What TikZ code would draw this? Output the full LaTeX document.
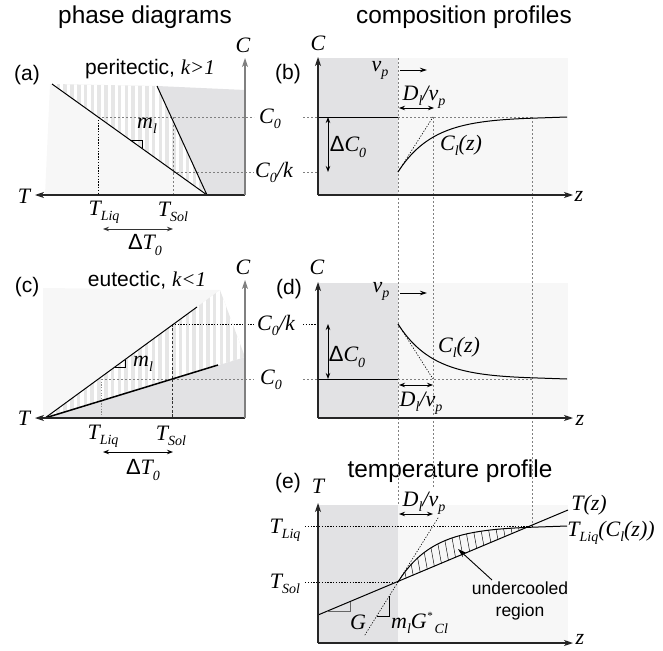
\documentclass[tikz,border=0pt]{standalone}
\usepackage{fontspec}
\setmainfont{Liberation Sans}
\newfontfamily\tms{Liberation Serif}
\usetikzlibrary{arrows.meta}
\definecolor{regdark}{HTML}{E2E2E4}
\definecolor{reglight}{HTML}{F7F7F7}
\definecolor{stripebg}{HTML}{E6E6E6}
\newcommand\sbs[1]{\raisebox{-0.5ex}{\fontsize{14}{14}\selectfont\tms\itshape #1}}
\newcommand\mi[1]{{\tms\itshape #1}}
\newcommand\supstar{\raisebox{0.85ex}{\fontsize{11}{11}\selectfont *}}
\begin{document}
\begin{tikzpicture}[x=1pt,y=-1pt,
  mlab/.style={font=\fontsize{22}{24}\selectfont\tms\itshape, inner sep=0pt},
  slab/.style={font=\fontsize{21}{24}\selectfont, inner sep=0pt},
  ttl/.style={font=\fontsize{24.4}{28}\selectfont, inner sep=0pt},
  axk/.style={line width=1.1pt, draw=black!85, -{Stealth[length=9pt,width=6pt,inset=2.5pt]}},
  axg/.style={axk, draw=black!50},
  dbl/.style={line width=0.9pt, {Stealth[length=6pt,width=4.5pt]}-{Stealth[length=6pt,width=4.5pt]}},
  sarr/.style={line width=0.9pt, -{Stealth[length=7pt,width=4.5pt]}},
  gdash/.style={black!50, dash pattern=on 2.2pt off 1.8pt, line width=0.6pt},
  kdot/.style={black, dash pattern=on 1.3pt off 1.5pt, line width=0.6pt},
  crv/.style={line width=1pt},
  tri/.style={line width=0.8pt},
]
\useasboundingbox (0,0) rectangle (663,650);

% ---------- titles and panel labels
\node[ttl] (t1) at (145,17) {phase diagrams};
\node[ttl] (t2) at (464,17) {composition profiles};
\node[ttl] (t3) at (450,471) {temperature profile};
\node[slab] (pa) at (27,75) {(a)};
\node[slab] (pb) at (288,74) {(b)};
\node[slab] (pc) at (27,287) {(c)};
\node[slab] (pd) at (289,289) {(d)};
\node[slab] (pe) at (288,483) {(e)};
\node[slab] (peri) at (150,69) {peritectic, \mi{k>1}};
\node[slab] (eut) at (147,280) {eutectic, \mi{k<1}};

% ---------- panel (a) regions
\fill[reglight] (50,84) -- (52,84) -- (207,195) -- (45,195) -- cycle;
\fill[regdark] (157,86) -- (245,90) -- (245,195) -- (207,195) -- cycle;
\begin{scope}
\clip (52,84) -- (157,86) -- (207,195) -- cycle;
\fill[stripebg] (40,80) rectangle (250,200);
\foreach \i in {0,...,24} \draw[white, line width=3.2pt] ({55+\i*6.8},80) -- ++(0,120);
\end{scope}
% ---------- panel (c) regions
\fill[reglight] (43,288) -- (220,290) -- (45,418) -- (43,418) -- cycle;
\fill[regdark] (45,418) -- (245,357) -- (245,418) -- cycle;
\begin{scope}
\clip (45,418) -- (220,290) -- (245,357) -- cycle;
\fill[stripebg] (40,280) rectangle (250,420);
\foreach \i in {0,...,30} \draw[white, line width=3.2pt] ({48+\i*6.8},280) -- ++(0,140);
\end{scope}
% ---------- panels (b),(d),(e) rectangles
\fill[regdark] (318,58) rectangle (398,195);
\fill[reglight] (398,58) rectangle (568,195);
\fill[regdark] (318,283) rectangle (398,418);
\fill[reglight] (398,283) rectangle (568,418);
\fill[regdark] (318,505) rectangle (398,643);
\fill[reglight] (398,505) rectangle (568,643);

% ---------- coordinates
\coordinate (aLt) at (52,84);   \coordinate (aE) at (207,195);
\coordinate (aSt) at (157,86);
\coordinate (cT) at (45,418);   \coordinate (cLe) at (197,307);
\coordinate (cSe) at (218,365);
\coordinate (bS) at (398,172);  \coordinate (bM) at (433,117);
\coordinate (dS) at (398,324);  \coordinate (dM) at (433,379);
\coordinate (eS) at (398,582);

% ---------- dashed / dotted guide lines
% (a),(b)
\draw[gdash] (98,117) -- (254,117);
\draw[gdash] (303,117) -- (318,117);
\draw[gdash] (173,172) -- (254,172);
\draw[gdash] (303,172) -- (318,172);
\draw[kdot] (98,117) -- (98,195);
\draw[gdash] (173,117) -- (173,195);
\draw[gdash] (398,117) -- (532,117);
% (c),(d)
\draw[kdot] (172,324) -- (254,324);
\draw[kdot] (303,324) -- (318,324);
\draw[gdash] (101,379) -- (254,379);
\draw[gdash] (303,379) -- (318,379);
\draw[black!45, dash pattern=on 1.2pt off 1.5pt, line width=0.6pt] (101,379) -- (101,418);
\draw[black!80, dash pattern=on 2.5pt off 1.8pt, line width=0.6pt] (172,324) -- (172,418);
\draw[gdash] (398,379) -- (532,379);
% long verticals
\draw[gdash] (398,58) -- (398,505);
\draw[gdash] (433,117) -- (433,487);
\draw[gdash] (532,117) -- (532,526);
% (e)
\draw[kdot] (305,526) -- (532,526);
\draw[kdot] (305,582) -- (398,582);

% ---------- panel (a) lines
\draw[crv] (aLt) -- (aE);
\draw[crv] (aSt) -- (aE);
\draw[tri] (130,139.9) -- (142,139.9) -- (142,148.4);
\draw[axk] (245,195) -- (35,195);
\draw[axg] (245,195) -- (245,58);
\draw[dbl, draw=black!80] (103,229) -- (173,229);

% ---------- panel (c) lines
\draw[crv] (cT) -- (cLe);
\draw[line width=1.5pt] (cT) -- (cSe);
\draw[tri] (115,366.9) -- (125,366.9) -- (125,359.6);
\draw[axk] (245,418) -- (35,418);
\draw[axg] (245,418) -- (245,280);
\draw[dbl] (103,452) -- (173,452);

% ---------- panel (b)
\draw[crv] (318,117) -- (398,117);
\draw[crv] plot[domain=0:134, samples=70] ({398+\x},{117+55*exp(-\x/35)}) -- (567,117);
\draw[kdot] (bS) -- (bM);
\draw[dbl] (328,117) -- (328,172);
\draw[dbl] (399,108) -- (434,108);
\draw[sarr] (400,70) -- (427,70);
\draw[axk] (318,195) -- (318,57);
\draw[axk] (318,195) -- (573,195);

% ---------- panel (d)
\draw[crv] (318,379) -- (398,379);
\draw[crv] plot[domain=0:134, samples=70] ({398+\x},{379-55*exp(-\x/35)}) -- (567,379);
\draw[kdot] (dS) -- (dM);
\draw[dbl] (328,324) -- (328,379);
\draw[dbl] (399,385) -- (433,385);
\draw[sarr] (400,293) -- (427,293);
\draw[axk] (318,418) -- (318,282);
\draw[axk] (318,418) -- (573,418);

% ---------- panel (e)
\begin{scope}
\clip plot[domain=0:134, samples=70] ({398+\x},{526+56*exp(-\x/35)}) -- (532,524.7) -- (eS) -- cycle;
\foreach \i in {0,...,19} \draw[line width=0.45pt] ({392+\i*7.6},500) -- ++(18,100);
\end{scope}
\draw[crv] plot[domain=0:134, samples=70] ({398+\x},{526+56*exp(-\x/35)}) -- (567,526);
\draw[crv] (318,615) -- (568,510);
\draw[kdot] (364.75,635.2) -- (438.25,517.6);
\draw[tri, draw=black!60] (327,611.2) -- (350,611.2) -- (350,601.6);
\draw[tri] (376.7,616) -- (389,616) -- (389,596.4);
\draw[dbl] (399,514) -- (433,514);
\draw[sarr, -{Stealth[length=9pt,width=5.5pt]}] (492,580) -- (458,549);
\draw[axk] (318,643) -- (318,503);
\draw[axk] (318,643) -- (573,643);

% ---------- labels (a)
\node[mlab] (aC) at (243,45) {C};
\node[mlab] (aT) at (24,196) {T};
\node[mlab] (aTl) at (104,212) {T\sbs{Liq}};
\node[mlab] (aTs) at (173,212) {T\sbs{Sol}};
\node[mlab] (aDT) at (145,245) {{\upshape\fontspec{Liberation Sans}Δ}T\sbs{0}};
\node[mlab] (aC0) at (270,119) {C\sbs{0}};
\node[mlab] (aC0k) at (274,172) {C\sbs{0}/k};
\node[mlab] (aml) at (147,126) {m\sbs{l}};
% labels (b)
\node[mlab] (bC) at (318,43) {C};
\node[mlab] (bz) at (579,196) {z};
\node[mlab] (bvp) at (380,70) {v\sbs{p}};
\node[mlab] (bD) at (424,97) {D\sbs{l}/v\sbs{p}};
\node[mlab] (bDC) at (348,147) {{\upshape\fontspec{Liberation Sans}Δ}C\sbs{0}};
\node[mlab] (bCl) at (461,145) {C\sbs{l}(z)};
% labels (c)
\node[mlab] (cC) at (243,267) {C};
\node[mlab] (cTT) at (24,418) {T};
\node[mlab] (cTl) at (103,436) {T\sbs{Liq}};
\node[mlab] (cTs) at (171,436) {T\sbs{Sol}};
\node[mlab] (cDT) at (143,470) {{\upshape\fontspec{Liberation Sans}Δ}T\sbs{0}};
\node[mlab] (cml) at (143,364) {m\sbs{l}};
\node[mlab] (cC0k) at (276,325) {C\sbs{0}/k};
\node[mlab] (cC0) at (271,380) {C\sbs{0}};
% labels (d)
\node[mlab] (dC) at (317,267) {C};
\node[mlab] (dz) at (580,420) {z};
\node[mlab] (dvp) at (381,291) {v\sbs{p}};
\node[mlab] (dDC) at (347,357) {{\upshape\fontspec{Liberation Sans}Δ}C\sbs{0}};
\node[mlab] (dCl) at (459,347) {C\sbs{l}(z)};
\node[mlab] (dD) at (421,403) {D\sbs{l}/v\sbs{p}};
% labels (e)
\node[mlab] (eT) at (318,486) {T};
\node[mlab] (ez) at (580,639) {z};
\node[mlab] (eTl) at (285,530) {T\sbs{Liq}};
\node[mlab] (eTs) at (285,584) {T\sbs{Sol}};
\node[mlab] (eD) at (424,503) {D\sbs{l}/v\sbs{p}};
\node[mlab] (eTz) at (589,505) {T(z)};
\node[mlab] (eTL) at (611,533) {T\sbs{Liq}(C\sbs{l}(z))};
\node[mlab] (eG) at (358,622) {G};
\node[mlab, anchor=west] (emG) at (391,623) {m\sbs{l}G\supstar\sbs{\,Cl}};
\node[font=\fontsize{17.5}{22}\selectfont, align=center, inner sep=0pt] (eund) at (520,601) {undercooled\\region};
\end{tikzpicture}
\end{document}
